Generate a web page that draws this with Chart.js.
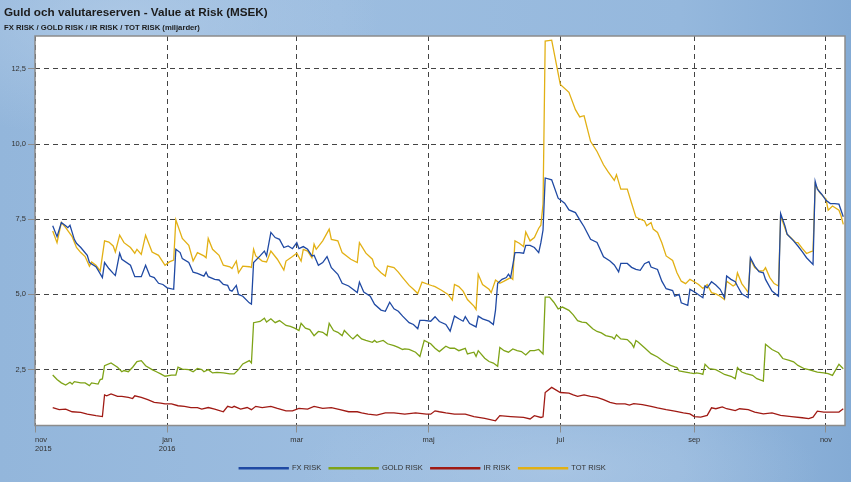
<!DOCTYPE html>
<html>
<head>
<meta charset="utf-8">
<script src="https://cdn.jsdelivr.net/npm/chart.js@4.4.1/dist/chart.umd.min.js"></script>
<style>
  html, body { margin: 0; padding: 0; }
  #wrap {
    position: relative; width: 851px; height: 482px; overflow: hidden;
    background:
      radial-gradient(ellipse 260px 120px at 120px 20px, rgba(190,212,236,0.55), rgba(190,212,236,0) 100%),
      radial-gradient(ellipse 260px 80px at 560px 470px, rgba(182,206,232,0.5), rgba(182,206,232,0) 100%),
      linear-gradient(90deg, #93b6db 0%, #9cbde0 40%, #95b8dd 80%, #84abd5 100%);
  }
  #title { position: absolute; left: 4px; top: 5px; font: bold 11.7px "Liberation Sans", Arial, sans-serif; line-height: 13px; color: #1c1c1c; white-space: nowrap; }
  #subtitle { position: absolute; left: 4px; top: 24px; font: bold 7.7px "Liberation Sans", Arial, sans-serif; line-height: 8px; color: #1c1c1c; white-space: nowrap; }
  canvas { position: absolute; left: 0; top: 0; }
</style>
</head>
<body>
<div id="wrap">
  <canvas id="c" width="851" height="482"></canvas>
  <div id="title">Guld och valutareserven - Value at Risk (MSEK)</div>
  <div id="subtitle">FX RISK / GOLD RISK / IR RISK / TOT RISK (miljarder)</div>
</div>
<script>
// x values: days since 2015-11-01
const startDate = '2015-11-01';
const seriesNames = ['FX RISK', 'GOLD RISK', 'IR RISK', 'TOT RISK'];
const monthTickDays = [0, 61, 121, 182, 243, 305, 366];
const monthTickLabels = [['nov', '2015'], ['jan', '2016'], ['mar'], ['maj'], ['jul'], ['sep'], ['nov']];
const yTickValues = [2.5, 5.0, 7.5, 10.0, 12.5];

const fxRisk = [[8,7.28],[10,6.92],[12,7.39],[14,7.28],[15,7.22],[16,7.3],[18,6.83],[19,6.7],[21,6.56],[24,6.3],[25,6.06],[28,5.92],[29,5.81],[31,5.56],[32,6.06],[34,5.86],[36,5.7],[37,5.63],[39,6.37],[40,6.17],[44,5.97],[46,5.59],[49,5.59],[51,5.97],[53,5.61],[55,5.56],[57,5.37],[59,5.33],[61,5.22],[64,5.17],[65,6.5],[67,6.39],[68,6.19],[71,6.06],[73,5.74],[75,5.7],[78,5.61],[79,5.74],[80,5.59],[83,5.5],[85,5.48],[87,5.33],[89,5.3],[90,5.14],[91,5.11],[93,5.3],[94,5.0],[96,4.94],[99,4.72],[100,4.68],[101,6.06],[104,6.28],[106,6.44],[107,6.28],[109,7.06],[111,6.89],[113,6.83],[115,6.56],[117,6.61],[119,6.52],[121,6.72],[122,6.52],[124,6.59],[126,6.5],[128,6.28],[129,6.3],[131,5.97],[133,6.06],[135,6.26],[137,5.89],[140,5.67],[142,5.37],[145,5.28],[147,5.17],[149,5.06],[150,5.41],[152,5.08],[155,4.94],[157,4.67],[160,4.48],[162,4.44],[164,4.74],[166,4.52],[168,4.44],[170,4.28],[173,4.06],[175,4.0],[177,3.86],[178,4.14],[180,4.14],[183,4.11],[185,4.26],[187,4.1],[190,4.0],[192,3.78],[194,4.28],[196,4.19],[198,4.11],[199,4.26],[201,4.03],[204,3.92],[205,4.28],[207,4.19],[210,4.11],[212,4.0],[213,4.48],[214,5.37],[216,5.5],[218,5.56],[219,5.67],[220,5.56],[222,6.39],[224,6.39],[226,6.37],[227,6.63],[229,6.63],[231,6.56],[233,6.39],[234,6.72],[235,7.14],[236,8.87],[239,8.81],[242,8.2],[245,8.03],[247,7.81],[250,7.72],[252,7.48],[254,7.25],[257,6.83],[260,6.73],[263,6.25],[266,6.11],[268,5.98],[270,5.75],[271,6.03],[274,6.03],[276,5.9],[278,5.83],[280,5.8],[282,6.02],[284,6.09],[285,5.91],[288,5.83],[290,5.44],[292,5.19],[295,5.13],[296,4.94],[298,5.0],[299,4.72],[302,4.64],[303,5.17],[305,5.09],[308,4.94],[309,4.89],[310,5.28],[311,5.22],[313,5.42],[315,5.31],[317,5.17],[319,4.89],[320,5.61],[322,5.5],[324,5.42],[325,5.28],[327,5.02],[330,4.89],[331,6.22],[333,5.94],[335,5.76],[337,5.72],[338,5.5],[341,5.11],[343,5.0],[344,4.94],[345,7.69],[347,7.28],[348,7.0],[351,6.78],[353,6.61],[355,6.42],[357,6.22],[360,6.0],[361,8.76],[362,8.5],[364,8.33],[366,8.13],[368,8.02],[370,8.02],[372,8.0],[374,7.58]];

const goldRisk = [[8,2.32],[10,2.17],[12,2.06],[14,1.99],[16,2.08],[17,2.02],[18,2.1],[21,2.06],[23,2.06],[25,1.97],[26,2.06],[29,2.02],[30,2.17],[31,2.19],[32,2.63],[35,2.72],[38,2.58],[40,2.43],[41,2.47],[43,2.43],[45,2.58],[47,2.77],[49,2.8],[51,2.63],[54,2.5],[56,2.43],[58,2.36],[60,2.28],[63,2.32],[65,2.32],[66,2.58],[68,2.52],[71,2.5],[73,2.43],[75,2.54],[77,2.5],[78,2.43],[80,2.5],[82,2.39],[84,2.41],[87,2.39],[90,2.36],[92,2.36],[94,2.5],[96,2.69],[99,2.8],[100,2.72],[101,4.06],[104,4.1],[106,4.21],[107,4.08],[109,4.19],[111,4.06],[113,4.13],[116,3.97],[118,3.94],[120,3.88],[122,3.8],[123,4.04],[125,3.88],[127,3.83],[129,3.63],[131,3.77],[133,3.74],[135,3.63],[136,4.04],[138,3.8],[140,3.74],[142,3.63],[143,3.8],[146,3.58],[147,3.52],[149,3.66],[151,3.52],[153,3.47],[156,3.41],[157,3.47],[158,3.41],[161,3.47],[163,3.36],[166,3.3],[168,3.24],[170,3.17],[171,3.19],[173,3.17],[176,3.08],[178,2.94],[180,3.47],[183,3.36],[185,3.21],[187,3.1],[190,3.28],[192,3.21],[194,3.21],[196,3.13],[199,3.21],[200,3.02],[203,3.08],[204,2.94],[205,3.13],[208,2.88],[210,2.77],[212,2.72],[214,2.61],[215,3.24],[217,3.13],[219,3.08],[221,3.19],[223,3.13],[225,3.1],[227,2.99],[229,3.13],[231,3.13],[233,3.17],[235,3.02],[236,4.91],[238,4.91],[240,4.74],[242,4.52],[244,4.58],[247,4.47],[249,4.32],[251,4.13],[253,4.08],[255,4.06],[258,3.86],[260,3.77],[262,3.72],[264,3.63],[267,3.58],[268,3.52],[269,3.66],[271,3.52],[274,3.5],[276,3.36],[277,3.24],[278,3.47],[279,3.42],[282,3.23],[285,3.03],[288,2.92],[291,2.76],[294,2.64],[296,2.59],[297,2.57],[298,2.46],[301,2.42],[303,2.39],[305,2.37],[306,2.39],[308,2.37],[309,2.34],[310,2.68],[312,2.53],[315,2.5],[317,2.42],[319,2.34],[322,2.28],[324,2.2],[325,2.57],[327,2.42],[329,2.37],[332,2.31],[334,2.2],[337,2.12],[338,3.34],[341,3.17],[344,3.06],[346,2.87],[349,2.81],[351,2.76],[353,2.64],[356,2.53],[358,2.5],[360,2.46],[362,2.42],[365,2.39],[367,2.37],[369,2.31],[372,2.68],[374,2.53]];

const irRisk = [[8,1.24],[11,1.17],[14,1.19],[17,1.1],[21,1.08],[24,1.02],[28,0.97],[31,0.94],[32,1.66],[33,1.63],[35,1.69],[38,1.61],[40,1.61],[43,1.58],[45,1.54],[46,1.63],[49,1.58],[52,1.5],[55,1.41],[58,1.39],[60,1.36],[63,1.36],[66,1.3],[69,1.28],[72,1.24],[75,1.24],[77,1.19],[80,1.24],[83,1.19],[87,1.1],[89,1.28],[91,1.24],[92,1.28],[95,1.19],[98,1.24],[100,1.17],[102,1.28],[105,1.24],[109,1.28],[112,1.21],[116,1.13],[119,1.13],[122,1.21],[126,1.19],[129,1.28],[133,1.21],[137,1.24],[141,1.17],[145,1.1],[149,1.1],[151,1.06],[154,1.02],[158,0.99],[162,1.06],[166,1.06],[171,1.02],[176,1.06],[181,1.02],[183,1.02],[185,1.13],[187,1.1],[190,1.06],[194,1.02],[199,1.02],[203,0.94],[208,0.88],[213,0.8],[215,0.97],[220,0.94],[226,0.91],[229,0.86],[231,0.97],[234,0.91],[235,0.93],[236,1.74],[239,1.91],[243,1.74],[247,1.72],[249,1.66],[251,1.61],[254,1.66],[257,1.61],[260,1.58],[263,1.5],[266,1.41],[269,1.36],[273,1.36],[275,1.32],[277,1.37],[281,1.34],[285,1.28],[288,1.23],[292,1.17],[296,1.12],[300,1.06],[303,1.03],[305,0.94],[308,0.92],[311,0.98],[313,1.23],[315,1.2],[318,1.26],[320,1.2],[324,1.14],[326,1.2],[330,1.17],[333,1.09],[337,1.03],[341,1.06],[345,0.98],[350,0.94],[355,0.9],[358,0.87],[360,0.92],[362,1.12],[365,1.09],[367,1.09],[372,1.09],[374,1.2]];

const totRisk = [[8,7.11],[10,6.72],[12,7.39],[14,7.22],[17,6.92],[19,6.56],[21,6.39],[23,6.26],[25,5.94],[26,6.08],[28,5.97],[30,5.78],[32,6.78],[34,6.74],[36,6.61],[37,6.41],[39,6.97],[41,6.72],[44,6.56],[46,6.37],[47,6.5],[49,6.33],[51,6.97],[54,6.41],[57,6.3],[60,5.97],[62,6.08],[64,6.14],[65,7.48],[68,6.86],[71,6.63],[73,6.11],[75,6.39],[78,6.28],[79,6.22],[80,6.86],[82,6.5],[85,6.3],[87,5.97],[90,5.92],[91,5.86],[93,6.11],[94,5.72],[96,5.94],[99,5.92],[100,5.9],[101,6.5],[102,6.28],[105,6.11],[107,6.08],[109,6.44],[112,6.17],[115,5.81],[116,6.11],[119,6.26],[121,6.37],[123,6.11],[124,6.5],[126,6.44],[128,6.22],[129,6.67],[130,6.5],[133,6.78],[136,7.17],[137,6.83],[140,6.78],[142,6.39],[146,6.17],[149,6.06],[150,6.72],[153,6.37],[156,6.17],[157,5.94],[160,5.72],[162,5.61],[163,5.94],[166,5.89],[168,5.74],[170,5.56],[173,5.3],[175,5.17],[177,5.03],[179,5.41],[182,5.33],[184,5.28],[185,5.26],[188,5.14],[191,5.0],[193,4.81],[194,5.33],[196,5.26],[198,5.11],[200,4.83],[203,4.61],[204,4.5],[205,5.67],[207,5.33],[210,5.17],[211,5.06],[213,5.48],[215,5.37],[217,5.44],[220,5.56],[221,5.5],[222,6.78],[224,6.7],[226,6.59],[227,7.08],[229,6.78],[231,6.89],[233,7.2],[234,7.3],[235,8.0],[236,13.42],[239,13.45],[243,11.98],[247,11.72],[250,11.14],[252,10.9],[254,10.94],[257,10.09],[260,9.75],[263,9.31],[265,9.09],[268,8.79],[269,8.98],[271,8.5],[274,8.5],[276,8.03],[278,7.57],[280,7.5],[282,7.44],[283,7.28],[285,7.39],[286,7.17],[288,7.06],[290,6.72],[292,6.28],[295,6.13],[297,5.72],[299,5.44],[301,5.36],[303,5.5],[305,5.42],[307,5.33],[309,5.2],[311,5.33],[313,5.06],[315,5.02],[317,4.94],[319,4.83],[320,5.44],[323,5.28],[324,5.33],[325,5.72],[327,5.36],[329,5.17],[330,5.06],[331,6.17],[333,5.89],[335,5.78],[337,5.78],[338,5.89],[340,5.56],[342,5.36],[344,5.28],[345,7.61],[348,7.0],[350,6.87],[352,6.72],[353,6.72],[355,6.53],[357,6.36],[359,6.42],[360,6.44],[361,8.67],[363,8.39],[366,8.17],[367,7.8],[369,7.94],[372,7.8],[373,7.61],[374,7.33]];

const seriesColors = ['#1f49a3', '#7ea317', '#a01a14', '#e2b014'];
const seriesData = [fxRisk, goldRisk, irRisk, totRisk];

const FONT = '"Liberation Sans", Arial, sans-serif';
const TEXT = '#333333';

const chartDecor = {
  id: 'chartDecor',
  beforeDraw(chart) {
    const {ctx, chartArea: a} = chart;
    ctx.save();
    ctx.fillStyle = '#ffffff';
    ctx.fillRect(a.left, a.top, a.right - a.left, a.bottom - a.top);
    ctx.restore();
  },
  afterDraw(chart) {
    const {ctx, chartArea: a} = chart;
    ctx.save();
    ctx.strokeStyle = '#8c8c8c';
    ctx.lineWidth = 1.5;
    ctx.strokeRect(a.left, a.top, a.right - a.left, a.bottom - a.top);
    // x tick labels
    const xs = chart.scales.x;
    ctx.font = '7.5px ' + FONT;
    ctx.fillStyle = TEXT;
    ctx.textBaseline = 'middle';
    ctx.textAlign = 'left';
    monthTickDays.forEach((d, i) => {
      const px = xs.getPixelForValue(d);
      monthTickLabels[i].forEach((t, j) => {
        const w = ctx.measureText(t).width;
        const left = Math.max(px - w / 2, a.left);
        ctx.fillText(t, left, a.bottom + 14 + j * 9.5);
      });
    });
    ctx.restore();
  }
};

const LEGEND_PAD = 8;

new Chart(document.getElementById('c'), {
  type: 'line',
  data: {
    datasets: seriesNames.map((name, i) => ({
      label: name,
      data: seriesData[i].map(p => ({x: p[0], y: p[1]})),
      borderColor: seriesColors[i],
      backgroundColor: seriesColors[i],
      borderWidth: 1.3,
      pointRadius: 0,
      tension: 0,
      fill: false
    }))
  },
  options: {
    responsive: false,
    animation: false,
    events: [],
    layout: { padding: { left: 0, right: 6, top: 36, bottom: 0 } },
    scales: {
      x: {
        type: 'linear',
        min: -0.2,
        max: 374.8,
        afterBuildTicks: (s) => { s.ticks = monthTickDays.map(v => ({value: v})); },
        afterFit: (s) => { s.height = 39 - LEGEND_PAD; },
        ticks: { display: false },
        grid: { color: '#444444', lineWidth: 1, tickLength: 7, tickColor: '#8c8c8c', tickWidth: 1, borderDash: [5, 4] },
        border: { display: false, dash: [5, 4] }
      },
      y: {
        min: 0.643,
        max: 13.59,
        afterBuildTicks: (s) => { s.ticks = yTickValues.map(v => ({value: v})); },
        afterFit: (s) => { s.width = 35; },
        ticks: {
          color: TEXT,
          font: { family: FONT, size: 7.5 },
          padding: 2,
          callback: (v) => Number(v).toFixed(1).replace('.', ',')
        },
        grid: { color: '#444444', lineWidth: 1, tickLength: 7, tickColor: '#8c8c8c', tickWidth: 1, borderDash: [5, 4] },
        border: { display: false, dash: [5, 4] }
      }
    },
    plugins: {
      legend: {
        position: 'bottom',
        labels: {
          boxWidth: 49,
          boxHeight: 1,
          padding: LEGEND_PAD,
          color: TEXT,
          font: { family: FONT, size: 7.5 }
        }
      },
      tooltip: { enabled: false },
      title: { display: false }
    }
  },
  plugins: [chartDecor]
});
</script>
</body>
</html>
